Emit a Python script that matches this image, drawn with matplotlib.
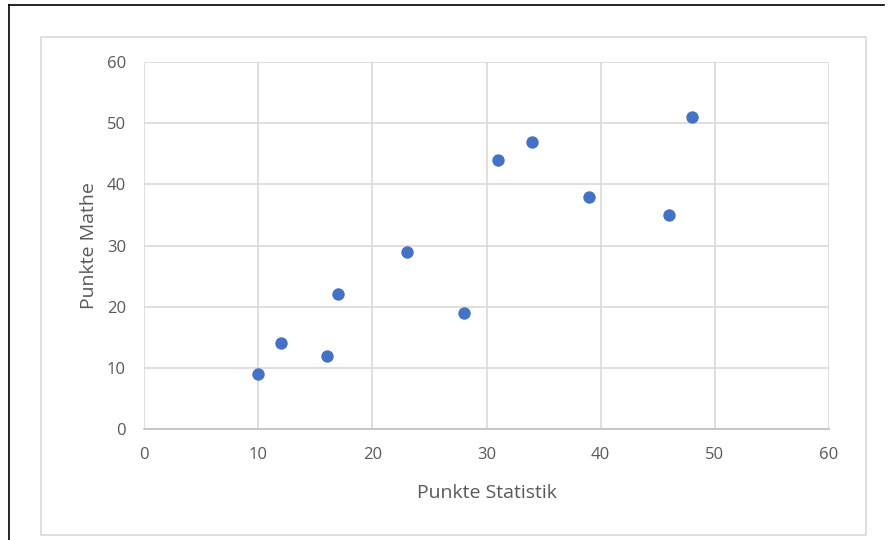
import matplotlib
matplotlib.use('Agg')
from matplotlib import pyplot as plt
from matplotlib.patches import Rectangle
from matplotlib.lines import Line2D

plt.rcParams['font.family'] = ['Open Sans', 'DejaVu Sans']

# Punkte der Schüler
statistik = [10, 12, 16, 17, 23, 28, 31, 34, 39, 46, 48]
mathe = [9, 14, 12, 22, 29, 19, 44, 47, 38, 35, 51]
ticks = [0, 10, 20, 30, 40, 50, 60]

W, H = 888, 540
fig = plt.figure(figsize=(W / 100, H / 100), dpi=100)

# äußerer schwarzer Rahmen (nur links und oben sichtbar)
fig.add_artist(Line2D([9 / W, 9 / W], [0, 1 - 5 / H], color='black', lw=1.2))
fig.add_artist(Line2D([9 / W, 884 / W], [1 - 5 / H, 1 - 5 / H], color='black', lw=1.2))

# grauer Diagrammrahmen
fig.add_artist(Rectangle((41 / W, 1 - 535 / H), (866 - 41) / W, (535 - 37) / H,
                         fill=False, edgecolor='#d9d9d9', lw=1.2))

ax = fig.add_axes([144 / W, 1 - 429 / H, (829 - 144) / W, (429 - 62) / H])
ax.scatter(statistik, mathe, s=80, color='#4472c4', zorder=3, linewidths=0)

ax.set_xlim(0, 60)
ax.set_ylim(0, 60)
ax.set_xticks(ticks)
ax.set_yticks(ticks)
ax.grid(True, color='#d9d9d9', lw=1.2)
ax.set_axisbelow(True)
for s in ['top', 'right', 'left']:
    ax.spines[s].set_visible(False)
ax.spines['bottom'].set_color('#bfbfbf')
ax.spines['bottom'].set_linewidth(1.2)
ax.tick_params(length=0, labelsize=12, labelcolor='#595959')
ax.tick_params(axis='y', pad=13)
ax.tick_params(axis='x', pad=13)

ax.set_xlabel('Punkte Statistik', fontsize=14, color='#595959', labelpad=15)
ax.set_ylabel('Punkte Mathe', fontsize=14, color='#595959', labelpad=6)

plt.savefig('out.png', dpi=100)
